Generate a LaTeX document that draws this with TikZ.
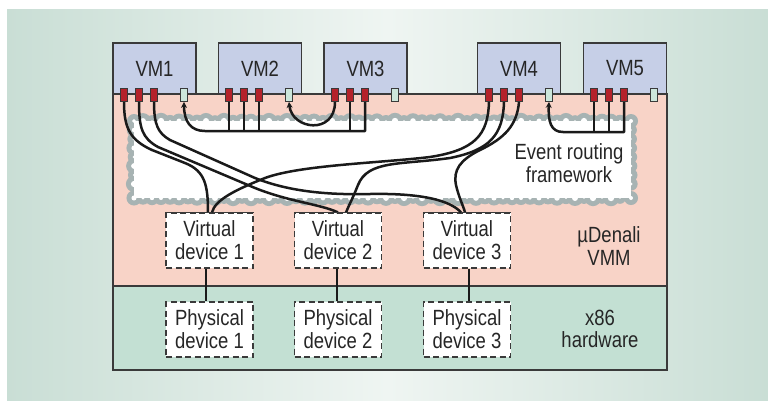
\documentclass[tikz,border=0pt]{standalone}
\usepackage{fontspec}
\setmainfont{Liberation Sans}[FakeStretch=0.84]
\usetikzlibrary{arrows.meta}
\definecolor{bgside}{HTML}{C9DED5}
\definecolor{bgmid}{HTML}{EFF5F2}
\definecolor{vmmpink}{HTML}{F8D3C7}
\definecolor{hwgreen}{HTML}{C3E0D3}
\definecolor{vmfill}{HTML}{C6CFE7}
\definecolor{linec}{HTML}{3A3A3A}
\definecolor{redport}{HTML}{B5222B}
\definecolor{grnport}{HTML}{CCE6DB}
\definecolor{cloudgray}{HTML}{A7B3B3}
\definecolor{wirec}{HTML}{1A1A1A}
\definecolor{txtc}{HTML}{262626}
\newcommand\cloudlayer[2]{%
  \foreach \xx in {134,143,...,626}{%
    \pgfmathsetmacro\rad{7+1.2*sin(\xx*23)-#2}
    \fill[#1] (\xx,121) circle[radius=\rad];
    \pgfmathsetmacro\rad{7+1.2*sin(\xx*19)-#2}
    \fill[#1] (\xx,198) circle[radius=\rad];
  }%
  \foreach \yy in {121,130,...,192}{%
    \pgfmathsetmacro\rad{7+1.2*sin(\yy*61)-#2}
    \fill[#1] (134,\yy) circle[radius=\rad];
    \pgfmathsetmacro\rad{7+1.2*sin(\yy*41)-#2}
    \fill[#1] (631,\yy) circle[radius=\rad];
  }%
  \fill[#1] (631,121) circle[radius=7-#2];
  \fill[#1] (631,198) circle[radius=7-#2];
  \fill[#1] (134,198) circle[radius=7-#2];
  \fill[#1] (134,121) rectangle (631,198);
}
\begin{document}
\begin{tikzpicture}[x=1pt,y=-1pt,
  txt/.style={font=\fontsize{22}{22.8}\selectfont, text=txtc, align=center, inner sep=0pt},
  vmbox/.style={txt, draw=linec, fill=vmfill, line width=1.2pt, minimum width=83pt, minimum height=51pt},
  devbox/.style={txt, draw=linec, fill=white, line width=1.2pt, dash pattern=on 6pt off 3.5pt, minimum width=87pt, minimum height=55pt},
  rport/.style={draw=linec, fill=redport, line width=0.8pt, minimum width=7pt, minimum height=13pt, inner sep=0pt},
  gport/.style={draw=linec, fill=grnport, line width=0.8pt, minimum width=7pt, minimum height=13pt, inner sep=0pt},
  wire/.style={draw=wirec, line width=2.5pt, line join=round},
  arr/.style={wire, -{Stealth[length=6pt,width=6pt]}}
]
\useasboundingbox (0,0) rectangle (768,400);
\fill[white] (0,0) rectangle (768,400);
\shade[left color=bgside, right color=bgside, middle color=bgmid] (7,9) rectangle (768,400);

% VM boxes
\node[vmbox] (vm1) at (154.5,68.5) {VM1};
\node[vmbox] (vm2) at (260,68.5) {VM2};
\node[vmbox] (vm3) at (365.5,68.5) {VM3};
\node[vmbox] (vm4) at (519,68.5) {VM4};
\node[vmbox] (vm5) at (625,68.5) {VM5};

% layers
\fill[vmmpink] (113,94) rectangle (667,286);
\fill[hwgreen] (113,286) rectangle (667,370);
\draw[linec, line width=1.3pt] (113,94) rectangle (667,370);
\draw[linec, line width=1.3pt] (113,286) -- (667,286);

% cloud (event routing framework)
\cloudlayer{cloudgray}{0}
\cloudlayer{white}{5}

% device boxes
\node[devbox] (vd1) at (209.5,240.5) {Virtual\\device 1};
\node[devbox] (vd2) at (338,240.5) {Virtual\\device 2};
\node[devbox] (vd3) at (467,240.5) {Virtual\\device 3};
\node[devbox] (pd1) at (209.5,329.5) {Physical\\device 1};
\node[devbox] (pd2) at (338,329.5) {Physical\\device 2};
\node[devbox] (pd3) at (467,329.5) {Physical\\device 3};

% ports
\foreach \v/\x in {1/113,2/218,3/324,4/478,5/583}{
  \node[rport] (p\v1) at (\x+11,95) {};
  \node[rport] (p\v2) at (\x+26,95) {};
  \node[rport] (p\v3) at (\x+41,95) {};
  \node[gport] (g\v) at (\x+71,95) {};
}
\coordinate (busA) at (0,131);
\coordinate (busB) at (0,132);

% buses
\draw[arr] (p33.south) -- (p33.south |- busA) -- (205,131) .. controls (191,131) and (184,122) .. (g1.south);
\foreach \p in {p21,p22,p23,p32}{ \draw[wire] (\p.south) -- (\p.south |- busA); }
\draw[arr] (p31.south) .. controls (335,135) and (292,130) .. (g2.south);
\draw[arr] (p53.south) -- (p53.south |- busB) -- (563,132) .. controls (551,132) and (548,122) .. (g4.south);
\foreach \p in {p51,p52}{ \draw[wire] (\p.south) -- (\p.south |- busB); }

% crossing wires
\draw[wire] (p11.south) .. controls (124,128) and (130,140) .. (152,150) -- (185,163) .. controls (205,171) and (208,185) .. ([xshift=-1.5pt]vd1.north);
\draw[wire] (p12.south) .. controls (139,128) and (142,138) .. (158,147) -- (255,188) .. controls (290,202) and (320,204) .. (vd2.north);
\draw[wire] (p13.south) .. controls (154,125) and (158,133) .. (170,140) -- (255,178) .. controls (290,192) and (330,195) .. (370,194) .. controls (420,193) and (450,200) .. ([xshift=-6pt]vd3.north);
\draw[wire] (p41.south) .. controls (488,135) and (475,150) .. (430,157) .. controls (380,163) and (300,165) .. (265,178) .. controls (235,190) and (215,200) .. ([xshift=2.5pt]vd1.north);
\draw[wire] (p42.south) .. controls (503,135) and (490,150) .. (450,158) .. controls (400,165) and (368,160) .. (358,185) .. controls (352,200) and (349,205) .. ([xshift=8pt]vd2.north);
\draw[wire] (p43.south) .. controls (517,125) and (505,138) .. (480,150) .. controls (460,160) and (453,170) .. (456,185) .. controls (459,198) and (463,205) .. ([xshift=-2pt]vd3.north);

% ports drawn again on top of the wire ends
\foreach \v/\x in {1/113,2/218,3/324,4/478,5/583}{
  \node[rport] at (\x+11,95) {};
  \node[rport] at (\x+26,95) {};
  \node[rport] at (\x+41,95) {};
  \node[gport] at (\x+71,95) {};
}
\foreach \n in {vd1,vd2,vd3}{ \draw[linec, line width=1.2pt, dash pattern=on 6pt off 3.5pt] (\n.north west) -- (\n.north east); }

% vertical links
\draw[wire] ([xshift=-3.5pt]vd1.south) -- ([xshift=-3.5pt]pd1.north);
\draw[wire] ([xshift=-1pt]vd2.south) -- ([xshift=-1pt]pd2.north);
\draw[wire] ([xshift=2pt]vd3.south) -- ([xshift=2pt]pd3.north);

% labels
\node[txt] (erf) at (569,163) {Event routing\\framework};
\node[txt] (vmm) at (609,246) {µDenali\\VMM};
\node[txt] (hw) at (600,329) {x86\\hardware};
\end{tikzpicture}
\end{document}
